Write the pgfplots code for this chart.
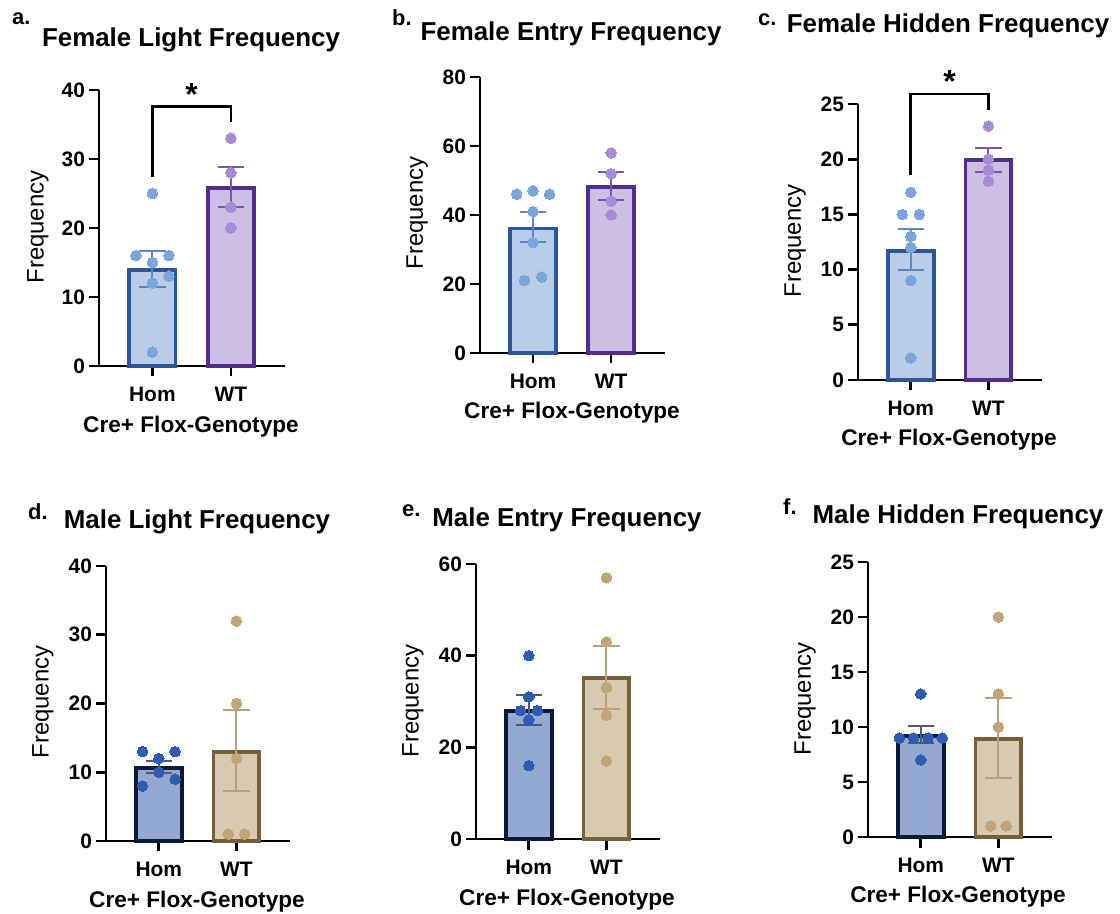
\documentclass[border=0pt]{standalone}
\usepackage{pgfplots}
\pgfplotsset{compat=1.18}
\usepackage{fontspec}
\setmainfont{Liberation Sans}
\newcommand{\fs}[1]{\fontsize{#1}{#1}\selectfont}

\definecolor{fhfill}{HTML}{B9CDE8}
\definecolor{fhedge}{HTML}{2D5597}
\definecolor{fhpt}{HTML}{7BA5DD}
\definecolor{fherr}{HTML}{5F86C4}
\definecolor{fwfill}{HTML}{CDBFE3}
\definecolor{fwedge}{HTML}{542D8C}
\definecolor{fwpt}{HTML}{A78BD8}
\definecolor{fwerr}{HTML}{7556B0}
\definecolor{mhfill}{HTML}{93A9D1}
\definecolor{mhedge}{HTML}{0B1A3A}
\definecolor{mhpt}{HTML}{2F5CB3}
\definecolor{mherr}{HTML}{4B5A78}
\definecolor{mwfill}{HTML}{D8CAB0}
\definecolor{mwedge}{HTML}{76603C}
\definecolor{mwpt}{HTML}{C2A478}
\definecolor{mwerr}{HTML}{B8A07A}

\pgfplotsset{
  panel/.style={
    scale only axis,
    anchor=south west,
    axis lines*=left,
    axis line style={line width=2.7bp, black},
    xmin=-0.68, xmax=1.69, ymin=0,
    xtick={0,1}, xticklabels={Hom,WT},
    minor tick num=0,
    tick align=outside,
    major tick length=10.5bp,
    tick style={line width=2.7bp, black},
    tick label style={font=\fs{21}\bfseries},
    xticklabel style={yshift=-7bp},
    /pgf/number format/assume math mode=true,
    clip=false,
  },
  barst/.style={ybar, bar width=0.59, line width=3.8bp},
  errst/.style={line width=2bp},
  ptst/.style={only marks, mark=*, mark size=5.3bp, color=#1, mark options={solid, fill=#1, draw=#1, line width=0pt}},
  brst/.style={black, line width=2.7bp},
}

\begin{document}
\begin{tikzpicture}
\useasboundingbox (0,0) rectangle (1120bp,914bp);

% ---------------- Panel a ----------------
\begin{axis}[panel, at={(99bp,548bp)}, width=186bp, height=276bp, ymax=40, ytick={0,10,20,30,40}]
\addplot[barst, fill=fhfill, draw=fhedge] coordinates {(0,13.9)};
\addplot[barst, fill=fwfill, draw=fwedge] coordinates {(1,25.8)};
\addplot[errst, fherr] coordinates {(0,11.5) (0,16.7)};
\addplot[errst, fherr] coordinates {(-0.17,16.7) (0.17,16.7)};
\addplot[errst, fherr] coordinates {(-0.17,11.5) (0.17,11.5)};
\addplot[errst, fwerr] coordinates {(1,23.1) (1,28.8)};
\addplot[errst, fwerr] coordinates {(0.83,28.8) (1.17,28.8)};
\addplot[errst, fwerr] coordinates {(0.83,23.1) (1.17,23.1)};
\addplot[ptst=fhpt] coordinates {(0,25) (-0.21,16) (0.21,16) (0,15) (0.21,13) (0,12) (0,2)};
\addplot[ptst=fwpt] coordinates {(1,33) (1,28) (1,23) (1,20)};
\addplot[brst] coordinates {(0,27.4) (0,37.6) (1,37.6) (1,35.4)};
\node[font=\fs{32}\bfseries, anchor=base, inner sep=0pt] at (axis cs:0.5,37.8) {*};
\end{axis}

% ---------------- Panel b ----------------
\begin{axis}[panel, at={(480bp,561bp)}, width=185bp, height=276bp, ymax=80, ytick={0,20,40,60,80}]
\addplot[barst, fill=fhfill, draw=fhedge] coordinates {(0,36.1)};
\addplot[barst, fill=fwfill, draw=fwedge] coordinates {(1,48.2)};
\addplot[errst, fherr] coordinates {(0,32.1) (0,40.8)};
\addplot[errst, fherr] coordinates {(-0.17,40.8) (0.17,40.8)};
\addplot[errst, fherr] coordinates {(-0.17,32.1) (0.17,32.1)};
\addplot[errst, fwerr] coordinates {(1,44.3) (1,52.4)};
\addplot[errst, fwerr] coordinates {(0.83,52.4) (1.17,52.4)};
\addplot[errst, fwerr] coordinates {(0.83,44.3) (1.17,44.3)};
\addplot[ptst=fhpt] coordinates {(-0.21,46) (0,47) (0.21,46) (0,41) (0,32) (-0.11,21) (0.11,22)};
\addplot[ptst=fwpt] coordinates {(1,58) (1,52) (1,44) (1,40)};
\end{axis}

% ---------------- Panel c ----------------
\begin{axis}[panel, at={(858bp,534bp)}, width=184bp, height=276bp, ymax=25, ytick={0,5,10,15,20,25}]
\addplot[barst, fill=fhfill, draw=fhedge] coordinates {(0,11.7)};
\addplot[barst, fill=fwfill, draw=fwedge] coordinates {(1,19.9)};
\addplot[errst, fherr] coordinates {(0,9.96) (0,13.7)};
\addplot[errst, fherr] coordinates {(-0.17,13.7) (0.17,13.7)};
\addplot[errst, fherr] coordinates {(-0.17,9.96) (0.17,9.96)};
\addplot[errst, fwerr] coordinates {(1,18.8) (1,21.0)};
\addplot[errst, fwerr] coordinates {(0.83,21.0) (1.17,21.0)};
\addplot[errst, fwerr] coordinates {(0.83,18.8) (1.17,18.8)};
\addplot[ptst=fhpt] coordinates {(0,17) (-0.11,15) (0.11,15) (0,13) (0,12) (0,9) (0,2)};
\addplot[ptst=fwpt] coordinates {(1,23) (1,20) (1,19) (1,18)};
\addplot[brst] coordinates {(0,18.6) (0,25.9) (1,25.9) (1,24.5)};
\node[font=\fs{32}\bfseries, anchor=base, inner sep=0pt] at (axis cs:0.5,26.05) {*};
\end{axis}

% ---------------- Panel d ----------------
\begin{axis}[panel, at={(106bp,73bp)}, width=184bp, height=275bp, ymax=40, ytick={0,10,20,30,40}]
\addplot[barst, fill=mhfill, draw=mhedge] coordinates {(0,10.66)};
\addplot[barst, fill=mwfill, draw=mwedge] coordinates {(1,13.0)};
\addplot[errst, mherr] coordinates {(0,9.85) (0,11.6)};
\addplot[errst, mherr] coordinates {(-0.17,11.6) (0.17,11.6)};
\addplot[errst, mherr] coordinates {(-0.17,9.85) (0.17,9.85)};
\addplot[errst, mwerr] coordinates {(1,7.27) (1,19.05)};
\addplot[errst, mwerr] coordinates {(0.83,19.05) (1.17,19.05)};
\addplot[errst, mwerr] coordinates {(0.83,7.27) (1.17,7.27)};
\addplot[ptst=mhpt] coordinates {(-0.21,13) (0.21,13) (0,12) (0,10) (-0.21,8) (0.21,9)};
\addplot[ptst=mwpt] coordinates {(1,32) (1,20) (1,12) (0.894,1) (1.106,1)};
\end{axis}

% ---------------- Panel e ----------------
\begin{axis}[panel, at={(476bp,75bp)}, width=184bp, height=275bp, ymax=60, ytick={0,20,40,60}]
\addplot[barst, fill=mhfill, draw=mhedge] coordinates {(0,28.0)};
\addplot[barst, fill=mwfill, draw=mwedge] coordinates {(1,35.06)};
\addplot[errst, mherr] coordinates {(0,24.9) (0,31.35)};
\addplot[errst, mherr] coordinates {(-0.17,31.35) (0.17,31.35)};
\addplot[errst, mherr] coordinates {(-0.17,24.9) (0.17,24.9)};
\addplot[errst, mwerr] coordinates {(1,28.4) (1,42.2)};
\addplot[errst, mwerr] coordinates {(0.83,42.2) (1.17,42.2)};
\addplot[errst, mwerr] coordinates {(0.83,28.4) (1.17,28.4)};
\addplot[ptst=mhpt] coordinates {(0,40) (0,31) (-0.106,28) (0.11,28) (0,26) (0,16)};
\addplot[ptst=mwpt] coordinates {(1,57) (1,43) (1,33) (1,27) (1,17)};
\end{axis}

% ---------------- Panel f ----------------
\begin{axis}[panel, at={(868bp,77bp)}, width=184bp, height=275bp, ymax=25, ytick={0,5,10,15,20,25}]
\addplot[barst, fill=mhfill, draw=mhedge] coordinates {(0,9.18)};
\addplot[barst, fill=mwfill, draw=mwedge] coordinates {(1,8.88)};
\addplot[errst, mherr] coordinates {(0,8.5) (0,10.1)};
\addplot[errst, mherr] coordinates {(-0.17,10.1) (0.17,10.1)};
\addplot[errst, mherr] coordinates {(-0.17,8.5) (0.17,8.5)};
\addplot[errst, mwerr] coordinates {(1,5.33) (1,12.66)};
\addplot[errst, mwerr] coordinates {(0.83,12.66) (1.17,12.66)};
\addplot[errst, mwerr] coordinates {(0.83,5.33) (1.17,5.33)};
\addplot[ptst=mhpt] coordinates {(0,13) (-0.276,9) (-0.093,9) (0.093,9) (0.276,9) (0,7)};
\addplot[ptst=mwpt] coordinates {(1,20) (1,13) (1,10) (0.9,1) (1.1,1)};
\end{axis}

% ---------------- Texts ----------------
\begin{scope}[every node/.style={inner sep=0pt}]
\node[font=\fs{26}\bfseries] at (191bp,874bp) {Female Light Frequency};
\node[font=\fs{26}\bfseries] at (571bp,880bp) {Female Entry Frequency};
\node[font=\fs{26}\bfseries] at (948bp,888bp) {Female Hidden Frequency};
\node[font=\fs{26}\bfseries] at (197bp,392bp) {Male Light Frequency};
\node[font=\fs{26}\bfseries] at (567bp,394bp) {Male Entry Frequency};
\node[font=\fs{26}\bfseries] at (958bp,397bp) {Male Hidden Frequency};

\node[font=\fs{22}\bfseries, anchor=west] at (12bp,895bp) {a.};
\node[font=\fs{22}\bfseries, anchor=west] at (392bp,896bp) {b.};
\node[font=\fs{22}\bfseries, anchor=west] at (758bp,894bp) {c.};
\node[font=\fs{22}\bfseries, anchor=west] at (28bp,402bp) {d.};
\node[font=\fs{22}\bfseries, anchor=west] at (402bp,403bp) {e.};
\node[font=\fs{22}\bfseries, anchor=west] at (783bp,407bp) {f.};

\node[font=\fs{24}, rotate=90] at (38bp,687bp) {Frequency};
\node[font=\fs{24}, rotate=90] at (417bp,701bp) {Frequency};
\node[font=\fs{24}, rotate=90] at (795bp,673bp) {Frequency};
\node[font=\fs{24}, rotate=90] at (43bp,212bp) {Frequency};
\node[font=\fs{24}, rotate=90] at (413bp,213bp) {Frequency};
\node[font=\fs{24}, rotate=90] at (805bp,215bp) {Frequency};

\node[font=\fs{22.7}\bfseries] at (191bp,487bp) {Cre+ Flox-Genotype};
\node[font=\fs{22.7}\bfseries] at (572bp,501bp) {Cre+ Flox-Genotype};
\node[font=\fs{22.7}\bfseries] at (949bp,474bp) {Cre+ Flox-Genotype};
\node[font=\fs{22.7}\bfseries] at (197bp,12bp) {Cre+ Flox-Genotype};
\node[font=\fs{22.7}\bfseries] at (567bp,14bp) {Cre+ Flox-Genotype};
\node[font=\fs{22.7}\bfseries] at (958bp,17bp) {Cre+ Flox-Genotype};
\end{scope}
\end{tikzpicture}
\end{document}
